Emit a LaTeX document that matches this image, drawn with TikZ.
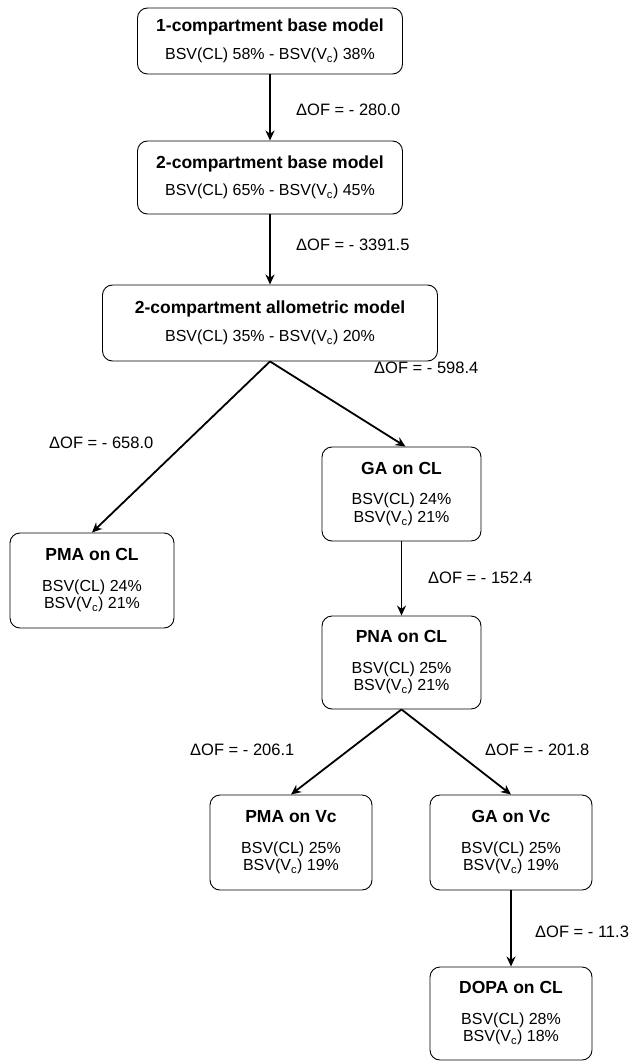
\documentclass[tikz,border=0pt]{standalone}
\usepackage{fontspec}
\setmainfont{Liberation Sans}
\usetikzlibrary{arrows.meta}
\newcommand{\ttl}[1]{{\fontsize{17.5}{19}\selectfont\textbf{#1}}}
\begin{document}
\begin{tikzpicture}[
    x=1pt, y=-1pt,
    font=\fontsize{16}{17.5}\selectfont,
    model/.style={rectangle, rounded corners=10pt, draw=black, line width=0.9pt, align=center, inner sep=0pt},
    arrow/.style={line width=1.8pt, -{Stealth[length=10pt,width=9pt]}},
    delta/.style={anchor=west, inner sep=0pt, font=\fontsize{16.5}{18}\selectfont}
]
\useasboundingbox (0,0) rectangle (635,1064);

% --- Nodes ---
% Base models
\node (base1) at (270, 41) [model, minimum width=265pt, minimum height=66pt] {\ttl{1-compartment base model}\\[10pt] BSV(CL) 58\% - BSV(V\textsubscript{c}) 38\%};
\node (base2) at (270, 177.5) [model, minimum width=265pt, minimum height=73pt] {\ttl{2-compartment base model}\\[10pt] BSV(CL) 65\% - BSV(V\textsubscript{c}) 45\%};
\node (allo) at (270, 323) [model, minimum width=335pt, minimum height=76pt] {\ttl{2-compartment allometric model}\\[10pt] BSV(CL) 35\% - BSV(V\textsubscript{c}) 20\%};

% Covariate steps
\node (pmacl) at (92, 580.5) [model, minimum width=164pt, minimum height=95pt] {\ttl{PMA on CL}\\[13pt] BSV(CL) 24\%\\ BSV(V\textsubscript{c}) 21\%};
\node (gacl) at (401.5, 494) [model, minimum width=159pt, minimum height=94pt] {\ttl{GA on CL}\\[13pt] BSV(CL) 24\%\\ BSV(V\textsubscript{c}) 21\%};
\node (pnacl) at (401.5, 662.5) [model, minimum width=159pt, minimum height=93pt] {\ttl{PNA on CL}\\[13pt] BSV(CL) 25\%\\ BSV(V\textsubscript{c}) 21\%};
\node (pmavc) at (291, 842.5) [model, minimum width=162pt, minimum height=95pt] {\ttl{PMA on Vc}\\[13pt] BSV(CL) 25\%\\ BSV(V\textsubscript{c}) 19\%};
\node (gavc) at (511, 842.5) [model, minimum width=162pt, minimum height=95pt] {\ttl{GA on Vc}\\[13pt] BSV(CL) 25\%\\ BSV(V\textsubscript{c}) 19\%};
\node (dopacl) at (511, 1013.5) [model, minimum width=162pt, minimum height=93pt] {\ttl{DOPA on CL}\\[13pt] BSV(CL) 28\%\\ BSV(V\textsubscript{c}) 18\%};

% OF drops
\node (of1) at (296, 110) [delta] {ΔOF = - 280.0};
\node (of2) at (296, 245) [delta] {ΔOF = - 3391.5};
\node (of3) at (374, 368) [delta] {ΔOF = - 598.4};
\node (of4) at (49, 443) [delta] {ΔOF = - 658.0};
\node (of5) at (428, 578) [delta] {ΔOF = - 152.4};
\node (of6) at (190, 750) [delta] {ΔOF = - 206.1};
\node (of7) at (485, 750) [delta] {ΔOF = - 201.8};
\node (of8) at (535, 932) [delta] {ΔOF = - 11.3};

% --- Edges ---
\draw [arrow] (base1) -- (base2);
\draw [arrow] (base2) -- (allo);
\draw [arrow] (allo.south) -- (pmacl.north);
\draw [arrow] (allo.south) -- ([xshift=4pt]gacl.north);
\draw [arrow] (gacl) -- (pnacl);
\draw [arrow] (pnacl.south) -- (pmavc.north);
\draw [arrow] (pnacl.south) -- (gavc.north);
\draw [arrow] (gavc) -- (dopacl);

\end{tikzpicture}
\end{document}
